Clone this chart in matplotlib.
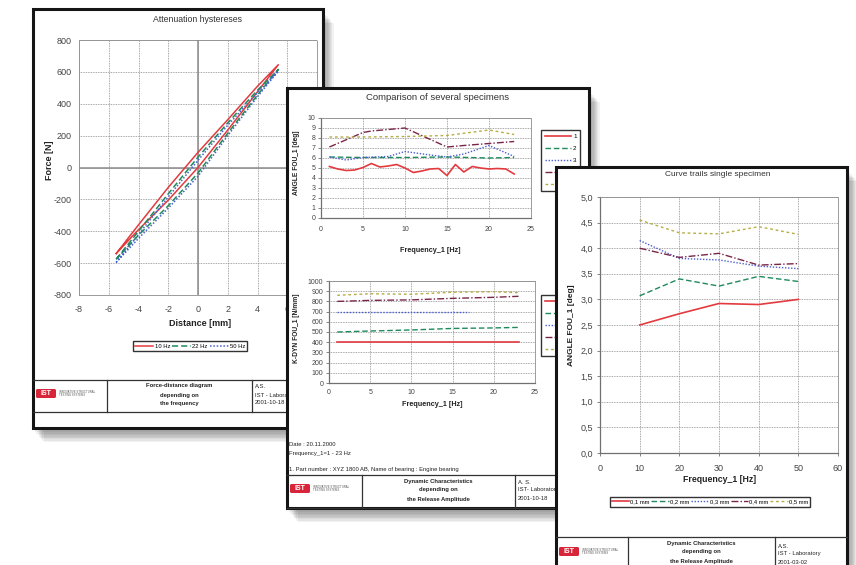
import matplotlib
matplotlib.use('Agg')
import matplotlib.pyplot as plt
from matplotlib.patches import Rectangle, FancyBboxPatch
from matplotlib.ticker import FuncFormatter

plt.rcParams['font.family'] = ['Liberation Sans', 'DejaVu Sans']
plt.rcParams['axes.unicode_minus'] = False

# --- page 1: attenuation hystereses (loops, going round: upper branch then lower branch)
loop_x = [-5.5, -4, -2, 0, 2, 4, 5.4, 4, 2, 0, -2, -4, -5.5]
loop_10hz = [-540, -360, -125, 95, 300, 510, 645, 475, 235, 0, -205, -390, -540]
loop_22hz = [-575, -400, -165, 65, 280, 485, 615, 455, 215, -35, -240, -425, -575]
loop_50hz = [-595, -420, -185, 45, 265, 470, 605, 445, 200, -55, -255, -445, -595]
hyst_labels = ["10 Hz", "22 Hz", "50 Hz"]
# the last tick (8) sits under page 2
dist_ticks = [-8, -6, -4, -2, 0, 2, 4, 6, 8]
dist_tick_labels = ["-8", "-6", "-4", "-2", "0", "2", "4", "6", ""]

# --- page 2: comparison of several specimens
freq_s1 = list(range(1, 24))
angle_s1 = [5.15, 4.9, 4.75, 4.8, 5.05, 5.45, 5.1, 5.2, 5.35, 5.0, 4.55, 4.7,
            4.9, 4.95, 4.25, 5.35, 4.6, 5.15, 5.0, 4.9, 4.95, 4.9, 4.4]
freq_s2 = [1, 5, 10, 15, 20, 23]
angle_s2 = [6.1, 6.05, 6.05, 6.1, 6.0, 6.05]
freq_s3 = [1, 3, 5, 8, 10, 13, 15, 17, 20, 23]
angle_s3 = [6.1, 5.8, 6.05, 6.15, 6.65, 6.3, 6.1, 6.4, 7.25, 6.15]
freq_s4 = [1, 5, 6, 10, 15, 17, 20, 23]
angle_s4 = [7.1, 8.55, 8.7, 9.0, 7.1, 7.25, 7.45, 7.65]
freq_s5 = [1, 5, 10, 15, 20, 23]
angle_s5 = [8.1, 8.1, 8.15, 8.25, 8.8, 8.35]
specimen_labels = ["1", "2", "3", "4", "5"]

kdyn_freq = [1, 5, 10, 15, 20, 23]
kdyn_s1 = [400, 400, 400, 400, 400, 400]
kdyn_s2 = [500, 510, 520, 535, 540, 545]
kdyn_s3_freq = [1, 5, 10, 15, 17]
kdyn_s3 = [700, 700, 700, 700, 700]
kdyn_s4 = [800, 810, 815, 830, 840, 850]
kdyn_s5 = [860, 875, 870, 890, 895, 885]

# --- page 3: curve trails single specimen
amp_freq = [10, 20, 30, 40, 50]
amp_01 = [2.5, 2.72, 2.92, 2.9, 3.0]
amp_02 = [3.07, 3.4, 3.26, 3.45, 3.35]
amp_03 = [4.15, 3.8, 3.77, 3.65, 3.6]
amp_04 = [4.0, 3.82, 3.9, 3.67, 3.7]
amp_05 = [4.55, 4.3, 4.28, 4.42, 4.27]
amp_labels = ["0,1 mm", "0,2 mm", "0,3 mm", "0,4 mm", "0,5 mm"]

colors = ['#e23a3f', '#1f8a5c', '#4a5fcf', '#7a2548', '#b5ad45']
styles = ['-', (0, (4, 2)), (0, (1, 1.2)), (0, (5, 1.5, 1, 1.5)), (0, (2, 2))]

W, H = 856, 565
fig = plt.figure(figsize=(W / 100, H / 100), dpi=100)


def box(x0, y0, x1, y1):
	return [x0 / W, 1 - y1 / H, (x1 - x0) / W, (y1 - y0) / H]


def page(z, x0, y0, x1, y1):
	pa = fig.add_axes([0, 0, 1, 1], zorder=z)
	pa.set_xlim(0, W)
	pa.set_ylim(H, 0)
	pa.axis('off')
	for k in range(1, 9):
		pa.add_patch(Rectangle((x0 + 1 + k * 1.2, y0 + 3 + k * 1.4), x1 - x0, y1 - y0,
		                       fc='black', alpha=0.05, lw=0))
	pa.add_patch(Rectangle((x0, y0), x1 - x0, y1 - y0, fc='white', ec='#151515', lw=2.2))
	return pa


def logo(pa, x, y):
	pa.add_patch(FancyBboxPatch((x, y), 20, 9, boxstyle='round,pad=0,rounding_size=1.5',
	                            fc='#d8253a', ec='none'))
	pa.text(x + 10, y + 4.8, 'IST', color='white', fontsize=5, weight='bold', ha='center', va='center')
	pa.text(x + 23, y + 3.2, 'INNOVATIVE STRUCTURAL', fontsize=2, color='#555', va='center')
	pa.text(x + 23, y + 6.2, 'TESTING SYSTEMS', fontsize=2, color='#555', va='center')


def title_block(pa, x0, x1, ytop, ybot, xa, xb, lines, info):
	pa.plot([x0, x1], [ytop, ytop], color='#333', lw=0.9)
	pa.plot([x0, x1], [ybot, ybot], color='#333', lw=0.9)
	pa.plot([xa, xa], [ytop, ybot], color='#333', lw=0.9)
	pa.plot([xb, xb], [ytop, ybot], color='#333', lw=0.9)
	logo(pa, x0 + 3, ytop + 9)
	for i, t in enumerate(lines):
		pa.text((xa + xb) / 2, ytop + 6 + i * 9, t, fontsize=4.2, weight='bold', color='#222',
		        ha='center', va='center')
	for i, t in enumerate(info):
		pa.text(xb + 3, ytop + 7 + i * 8, t, fontsize=4.2, color='#222', va='center')


def style_chart(ax, solid_axes, labelsize):
	ax.grid(True, ls=(0, (1, 1)), color='#8c8c8c', lw=0.6)
	ax.set_axisbelow(True)
	for s in ax.spines.values():
		s.set_linestyle((0, (1, 1)))
		s.set_color('#8c8c8c')
		s.set_linewidth(0.6)
	if solid_axes:
		for side in ['left', 'bottom']:
			ax.spines[side].set_linestyle('-')
			ax.spines[side].set_color('#707070')
			ax.spines[side].set_linewidth(0.9)
		ax.tick_params(length=2, width=0.6, color='#707070', labelsize=labelsize, labelcolor='#444')
	else:
		ax.tick_params(length=0, labelsize=labelsize, labelcolor='#444')


# ================= page 1 =================
p1 = page(1, 33, 9, 323, 428)
p1.text(198, 19, 'Attenuation hystereses', fontsize=6.3, color='#333', ha='center', va='center')
p1.text(50, 160, 'Force [N]', fontsize=6.5, weight='bold', color='#222', rotation=90, ha='center', va='center')
p1.text(200, 323, 'Distance [mm]', fontsize=6.5, weight='bold', color='#222', ha='center', va='center')

ax1 = fig.add_axes(box(79, 40, 317, 295), zorder=1.5)
style_chart(ax1, False, 6.5)
ax1.axhline(0, color='#8a8a8a', lw=1.1, zorder=1)
ax1.axvline(0, color='#8a8a8a', lw=1.1, zorder=1)
for ys, c, ls, lab in zip([loop_10hz, loop_22hz, loop_50hz], colors[:3], styles[:3], hyst_labels):
	ax1.plot(loop_x, ys, color=c, ls=ls, lw=1.1, label=lab)
ax1.set_xlim(-8, 8)
ax1.set_ylim(-800, 800)
ax1.set_xticks(dist_ticks)
ax1.set_xticklabels(dist_tick_labels)
ax1.set_yticks(range(-800, 801, 200))
ax1.tick_params(axis='y', pad=5)
ax1.tick_params(axis='x', pad=7)
ax1.legend(loc='center', bbox_to_anchor=(190 / W, 1 - 346 / H), bbox_transform=fig.transFigure,
           ncol=3, fontsize=4.2, fancybox=False, edgecolor='#333', framealpha=1,
           handlelength=3.2, columnspacing=0.4, handletextpad=0.2, borderpad=0.35)

title_block(p1, 33, 323, 380, 412, 107, 252,
            ['Force-distance diagram', 'depending on', 'the frequency'],
            ['A.S.', 'IST - Laboratory', '2001-10-18'])

# ================= page 2 =================
p2 = page(2, 287, 88, 589, 508)
p2.text(438, 97, 'Comparison of several specimens', fontsize=6.8, color='#333', ha='center', va='center')
p2.text(297, 163, 'ANGLE FOU_1 [deg]', fontsize=4.8, weight='bold', color='#222', rotation=90,
        ha='center', va='center')
p2.text(430, 250, 'Frequency_1 [Hz]', fontsize=5.2, weight='bold', color='#222', ha='center', va='center')
p2.text(297, 328, 'K-DYN FOU_1 [N/mm]', fontsize=4.8, weight='bold', color='#222', rotation=90,
        ha='center', va='center')
p2.text(432, 405, 'Frequency_1 [Hz]', fontsize=5.2, weight='bold', color='#222', ha='center', va='center')
p2.text(289, 445, 'Date : 20.11.2000', fontsize=4.2, color='#222', va='center')
p2.text(289, 454, 'Frequency_1=1 - 23 Hz', fontsize=4.2, color='#222', va='center')
p2.text(289, 469, '1. Part number : XYZ 1800 AB, Name of bearing : Engine bearing', fontsize=4.2,
        color='#222', va='center')

ax2 = fig.add_axes(box(321, 118, 531, 218), zorder=2.5)
style_chart(ax2, True, 5)
for xs, ys, c, ls, lab in zip([freq_s1, freq_s2, freq_s3, freq_s4, freq_s5],
                              [angle_s1, angle_s2, angle_s3, angle_s4, angle_s5],
                              colors, styles, specimen_labels):
	ax2.plot(xs, ys, color=c, ls=ls, lw=1.2 if ls == '-' else 1.0, label=lab)
ax2.set_xlim(0, 25)
ax2.set_ylim(0, 10)
ax2.set_xticks(range(0, 26, 5))
ax2.set_yticks(range(0, 11))
ax2.tick_params(axis='x', length=0, pad=6)
ax2.tick_params(axis='y', pad=2)
leg2 = ax2.legend(loc='upper left', bbox_to_anchor=(538 / W, 1 - 127 / H), bbox_transform=fig.transFigure,
                  fontsize=4.5, fancybox=False, edgecolor='#333', framealpha=1, handlelength=4.2,
                  handletextpad=0.3, labelspacing=1.05, borderpad=0.6)
# entries 4 and 5 lie behind page 3
for t in leg2.get_texts()[3:]:
	t.set_visible(False)

ax3 = fig.add_axes(box(329, 281, 535, 383), zorder=2.5)
style_chart(ax3, True, 5)
for xs, ys, c, ls, lab in zip([kdyn_freq, kdyn_freq, kdyn_s3_freq, kdyn_freq, kdyn_freq],
                              [kdyn_s1, kdyn_s2, kdyn_s3, kdyn_s4, kdyn_s5],
                              colors, styles, specimen_labels):
	ax3.plot(xs, ys, color=c, ls=ls, lw=1.2 if ls == '-' else 1.0, label=lab)
ax3.set_xlim(0, 25)
ax3.set_ylim(0, 1000)
ax3.set_xticks(range(0, 26, 5))
ax3.set_yticks(range(0, 1001, 100))
ax3.tick_params(axis='x', length=0, pad=4)
ax3.tick_params(axis='y', pad=2)
leg3 = ax3.legend(loc='upper left', bbox_to_anchor=(538 / W, 1 - 292 / H), bbox_transform=fig.transFigure,
                  fontsize=4.5, fancybox=False, edgecolor='#333', framealpha=1, handlelength=4.2,
                  handletextpad=0.3, labelspacing=1.05, borderpad=0.6)
# the labels of this legend are all covered by page 3
for t in leg3.get_texts():
	t.set_visible(False)

title_block(p2, 287, 589, 475, 508, 362, 515,
            ['Dynamic Characteristics', 'depending on', 'the Release Amplitude'],
            ['A. S.', 'IST- Laboratory', '2001-10-18'])

# ================= page 3 =================
p3 = page(3, 556, 167, 847, 600)
p3.text(718, 175, 'Curve trails single specimen', fontsize=6, color='#333', ha='center', va='center')
p3.text(572, 325, 'ANGLE FOU_1 [deg]', fontsize=6, weight='bold', color='#222', rotation=90,
        ha='center', va='center')
p3.text(720, 479, 'Frequency_1 [Hz]', fontsize=6.3, weight='bold', color='#222', ha='center', va='center')

ax4 = fig.add_axes(box(600, 197, 838, 453), zorder=3.5)
style_chart(ax4, True, 6.5)
for ys, c, ls, lab in zip([amp_01, amp_02, amp_03, amp_04, amp_05], colors, styles, amp_labels):
	ax4.plot(amp_freq, ys, color=c, ls=ls, lw=1.2 if ls == '-' else 1.0, label=lab)
ax4.set_xlim(0, 60)
ax4.set_ylim(0, 5)
ax4.set_xticks(range(0, 61, 10))
ax4.set_yticks([i * 0.5 for i in range(11)])
ax4.yaxis.set_major_formatter(FuncFormatter(lambda v, p: ('%.1f' % v).replace('.', ',')))
ax4.tick_params(axis='x', pad=6)
ax4.tick_params(axis='y', pad=3)
ax4.legend(loc='center', bbox_to_anchor=(710 / W, 1 - 502 / H), bbox_transform=fig.transFigure,
           ncol=5, fontsize=4.2, fancybox=False, edgecolor='#333', framealpha=1,
           handlelength=3, columnspacing=0.3, handletextpad=0.2, borderpad=0.35)

p3.plot([556, 847], [537, 537], color='#333', lw=0.9)
p3.plot([628, 628], [537, 570], color='#333', lw=0.9)
p3.plot([775, 775], [537, 570], color='#333', lw=0.9)
logo(p3, 559, 547)
for i, t in enumerate(['Dynamic Characteristics', 'depending on', 'the Release Amplitude']):
	p3.text(701, 543 + i * 9, t, fontsize=4.2, weight='bold', color='#222', ha='center', va='center')
for i, t in enumerate(['A.S.', 'IST - Laboratory', '2001-03-02']):
	p3.text(778, 546 + i * 8, t, fontsize=4.2, color='#222', va='center')

fig.savefig('out.png', dpi=100)
